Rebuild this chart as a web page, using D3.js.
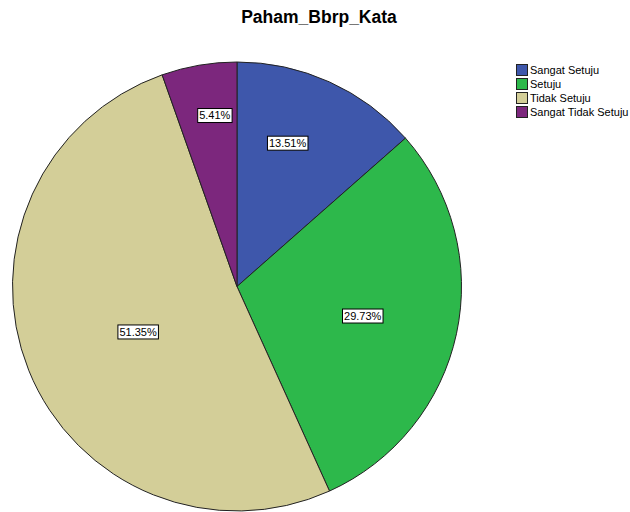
<!DOCTYPE html>
<html>
<head>
<meta charset="utf-8">
<script src="https://cdn.jsdelivr.net/npm/d3@7"></script>
<style>
body { margin: 0; background: #fff; }
svg { display: block; }
</style>
</head>
<body>
<svg width="630" height="512"></svg>
<script>
// chart data
var categories = ["Sangat Setuju", "Setuju", "Tidak Setuju", "Sangat Tidak Setuju"];
var percents = [13.51, 29.73, 51.35, 5.41];
var colors = ["#3E57AB", "#2DB84B", "#D3CE98", "#7C277D"];
var title = "Paham_Bbrp_Kata";

var svg = d3.select("svg"),
	width = +svg.attr("width"),
	height = +svg.attr("height");

var cx = 237, cy = 286.5, radius = 224.5;

// where each label sits inside its slice: share of the slice's sweep, share of radius
var labelSweep = [0.40, 0.51, 0.485, 0.62];
var labelDist = [0.677, 0.575, 0.485, 0.768];

svg.append("text")
	.attr("x", 319)
	.attr("y", 23)
	.attr("text-anchor", "middle")
	.style("font-family", "Liberation Sans, Arial, sans-serif")
	.style("font-weight", "bold")
	.style("font-size", "17.5px")
	.text(title);

var pie = d3.pie().sort(null).value(function(d) { return d; });
var arc = d3.arc().innerRadius(0).outerRadius(radius);
var arcs = pie(percents);

var g = svg.append("g").attr("transform", "translate(" + cx + "," + cy + ")");

g.selectAll("path")
	.data(arcs)
	.enter().append("path")
	.attr("d", arc)
	.attr("fill", function(d, i) { return colors[i]; })
	.attr("stroke", "#222")
	.attr("stroke-width", 1);

var labels = g.selectAll("g.lbl")
	.data(arcs)
	.enter().append("g")
	.attr("class", "lbl")
	.attr("transform", function(d, i) {
		var a = d.startAngle + (d.endAngle - d.startAngle) * labelSweep[i];
		var p = d3.pointRadial(a, radius * labelDist[i]);
		return "translate(" + p[0] + "," + p[1] + ")";
	});

labels.append("text")
	.attr("text-anchor", "middle")
	.attr("dy", "0.36em")
	.style("font-family", "Liberation Sans, Arial, sans-serif")
	.style("font-size", "11px")
	.text(function(d) { return d.data.toFixed(2) + "%"; });

labels.each(function() {
	var t = d3.select(this).select("text");
	var bb = t.node().getBBox();
	d3.select(this).insert("rect", "text")
		.attr("x", bb.x - 1.5)
		.attr("y", -7)
		.attr("width", bb.width + 3)
		.attr("height", 14)
		.attr("fill", "#fff")
		.attr("stroke", "#000")
		.attr("stroke-width", 1);
});

// legend
var legend = svg.append("g").attr("transform", "translate(516,64)");
var rows = legend.selectAll("g")
	.data(categories)
	.enter().append("g")
	.attr("transform", function(d, i) { return "translate(0," + (i * 14) + ")"; });

rows.append("rect")
	.attr("x", 0.5).attr("y", 0.5)
	.attr("width", 11).attr("height", 11)
	.attr("fill", function(d, i) { return colors[i]; })
	.attr("stroke", "#222")
	.attr("stroke-width", 1);

rows.append("text")
	.attr("x", 14)
	.attr("y", 10)
	.style("font-family", "Liberation Sans, Arial, sans-serif")
	.style("font-size", "11px")
	.text(function(d) { return d; });
</script>
</body>
</html>
